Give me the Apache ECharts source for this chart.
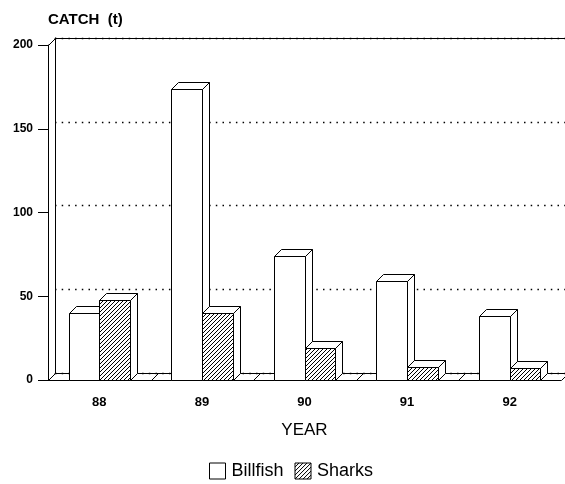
<!DOCTYPE html>
<html>
<head>
<meta charset="utf-8">
<script src="https://cdn.jsdelivr.net/npm/echarts@6/dist/echarts.min.js"></script>
<style>
  html, body { margin: 0; padding: 0; background: #fff; }
  #chart { width: 565px; height: 484px; }
</style>
</head>
<body>
<div id="chart"></div>
<script>
// Annual catch in tonnes, by year
const years = ['88', '89', '90', '91', '92'];
const billfish = [40, 174, 74, 59, 38];
const sharks = [48, 40, 19, 8, 7];
const yTicks = [0, 50, 100, 150, 200];

const DEPTH = 7;          // pseudo-3D offset (px) for bars, walls and floor
const BAR_FRAC = 0.30;    // width of one bar as a fraction of a category band
const FONT = '"Liberation Sans", Arial, Helvetica, sans-serif';

// Diagonal hatch tile for the Sharks series
function makeHatch() {
  const c = document.createElement('canvas');
  c.width = 4; c.height = 4;
  const g = c.getContext('2d');
  g.fillStyle = '#fff';
  g.fillRect(0, 0, 4, 4);
  g.strokeStyle = '#000';
  g.lineWidth = 1;
  g.beginPath();
  g.moveTo(-1, 5); g.lineTo(5, -1);
  g.moveTo(-1, 1); g.lineTo(1, -1);
  g.moveTo(3, 5); g.lineTo(5, 3);
  g.stroke();
  return c;
}
const hatchFill = { image: makeHatch(), repeat: 'repeat' };

const px = v => Math.round(v) + 0.5;
const edge = { stroke: '#000', lineWidth: 1 };

// A box bar: front face, top face and right-hand side face.
// slot = -1 draws left of the category centre, 0 draws right of it.
function boxRenderer(slot, frontFill) {
  return function (params, api) {
    const cat = api.value(0);
    const top = api.coord([cat, api.value(1)]);
    const base = api.coord([cat, 0]);
    const band = api.size([1, 0])[0];
    const w = band * BAR_FRAC;
    const x0 = px(top[0] + slot * w);
    const x1 = px(top[0] + (slot + 1) * w);
    const yT = px(top[1]);
    const yB = px(base[1]);
    const d = DEPTH;
    return {
      type: 'group',
      children: [
        { type: 'polygon',
          shape: { points: [[x1, yB], [x1 + d, yB - d], [x1 + d, yT - d], [x1, yT]] },
          style: Object.assign({ fill: '#fff' }, edge) },
        { type: 'polygon',
          shape: { points: [[x0, yT], [x0 + d, yT - d], [x1 + d, yT - d], [x1, yT]] },
          style: Object.assign({ fill: '#fff' }, edge) },
        { type: 'rect',
          shape: { x: x0, y: yT, width: x1 - x0, height: yB - yT },
          style: Object.assign({ fill: frontFill }, edge) }
      ]
    };
  };
}

// Floor divisions at category boundaries, plus the slanted corner at the top of the value axis
function floorRenderer(params, api) {
  const cat = api.value(0);
  const c = api.coord([cat, 0]);
  const band = api.size([1, 0])[0];
  const d = DEPTH;
  const children = [];
  const xl = px(c[0] - band / 2);
  const yB = px(c[1]);
  children.push({ type: 'line', shape: { x1: xl, y1: yB, x2: xl + d, y2: yB - d }, style: edge });
  if (params.dataIndex === years.length - 1) {
    const xr = px(c[0] + band / 2);
    children.push({ type: 'line', shape: { x1: xr, y1: yB, x2: xr + d, y2: yB - d }, style: edge });
  }
  if (params.dataIndex === 0) {
    const t = api.coord([cat, yTicks[yTicks.length - 1]]);
    const yt = px(t[1]);
    children.push({ type: 'line', shape: { x1: xl, y1: yt, x2: xl + d, y2: yt - d }, style: edge });
  }
  return { type: 'group', children: children };
}

const chart = echarts.init(document.getElementById('chart'), null, { renderer: 'canvas' });

const valueAxisBase = {
  type: 'value',
  min: yTicks[0],
  max: yTicks[yTicks.length - 1],
  interval: yTicks[1] - yTicks[0]
};

chart.setOption({
  backgroundColor: '#fff',
  animation: false,
  textStyle: { fontFamily: FONT, color: '#000' },
  title: {
    text: 'CATCH  (t)',
    left: 48,
    top: 12,
    padding: 0,
    textStyle: { fontFamily: FONT, fontSize: 15, fontWeight: 'bold', color: '#000' }
  },
  legend: {
    left: 209,
    top: 462,
    padding: 0,
    icon: 'rect',
    itemWidth: 16,
    itemHeight: 16,
    itemGap: 11,
    textStyle: { fontFamily: FONT, fontSize: 18, color: '#000', padding: [0, 0, 0, 1] },
    data: [
      { name: 'Billfish', itemStyle: { color: '#fff', borderColor: '#000', borderWidth: 1 } },
      { name: 'Sharks', itemStyle: { color: hatchFill, borderColor: '#000', borderWidth: 1 } }
    ]
  },
  grid: [
    // front plane: bars and labelled axes
    { left: 48, right: 4, top: 45, bottom: 104 },
    // back wall, offset by the depth
    { left: 48 + DEPTH, right: 0, top: 45 - DEPTH, bottom: 104 + DEPTH }
  ],
  xAxis: [
    {
      gridIndex: 0,
      type: 'category',
      data: years,
      axisLine: { lineStyle: { color: '#000', width: 1 } },
      axisTick: { alignWithLabel: true, length: 8, lineStyle: { color: '#000' } },
      axisLabel: { fontFamily: FONT, fontSize: 13, fontWeight: 'bold', color: '#000', margin: 16 },
      name: 'YEAR',
      nameLocation: 'middle',
      nameGap: 42,
      nameTextStyle: { fontFamily: FONT, fontSize: 17, color: '#000' },
      splitLine: { show: false }
    },
    {
      gridIndex: 1,
      type: 'category',
      data: years,
      position: 'bottom',
      axisLine: { lineStyle: { color: '#000', width: 1 } },
      axisTick: { show: false },
      axisLabel: { show: false },
      splitLine: { show: false }
    },
    {
      gridIndex: 1,
      type: 'category',
      data: years,
      position: 'top',
      axisLine: { lineStyle: { color: '#000', width: 1 } },
      axisTick: { show: false },
      axisLabel: { show: false },
      splitLine: { show: false }
    }
  ],
  yAxis: [
    Object.assign({}, valueAxisBase, {
      gridIndex: 0,
      axisLine: { show: true, lineStyle: { color: '#000', width: 1 } },
      axisTick: { show: true, length: 10, lineStyle: { color: '#000' } },
      axisLabel: { fontFamily: FONT, fontSize: 12, fontWeight: 'bold', color: '#000', margin: 15 },
      splitLine: { show: false }
    }),
    Object.assign({}, valueAxisBase, {
      gridIndex: 1,
      axisLine: { show: true, lineStyle: { color: '#000', width: 1 } },
      axisTick: { show: false },
      axisLabel: { show: false },
      splitLine: { show: true, lineStyle: { color: '#000', width: 1.3, type: [1.5, 5.2] } }
    })
  ],
  series: [
    {
      type: 'custom',
      name: 'floor',
      xAxisIndex: 0, yAxisIndex: 0,
      renderItem: floorRenderer,
      data: years.map((y, i) => [i, 0]),
      silent: true,
      z: 1
    },
    {
      type: 'custom',
      name: 'Billfish',
      xAxisIndex: 0, yAxisIndex: 0,
      itemStyle: { color: '#fff', borderColor: '#000', borderWidth: 1 },
      renderItem: boxRenderer(-1, '#fff'),
      encode: { x: 0, y: 1 },
      data: billfish.map((v, i) => [i, v]),
      z: 3
    },
    {
      type: 'custom',
      name: 'Sharks',
      xAxisIndex: 0, yAxisIndex: 0,
      itemStyle: { color: hatchFill, borderColor: '#000', borderWidth: 1 },
      renderItem: boxRenderer(0, hatchFill),
      encode: { x: 0, y: 1 },
      data: sharks.map((v, i) => [i, v]),
      z: 4
    }
  ]
});
</script>
</body>
</html>
